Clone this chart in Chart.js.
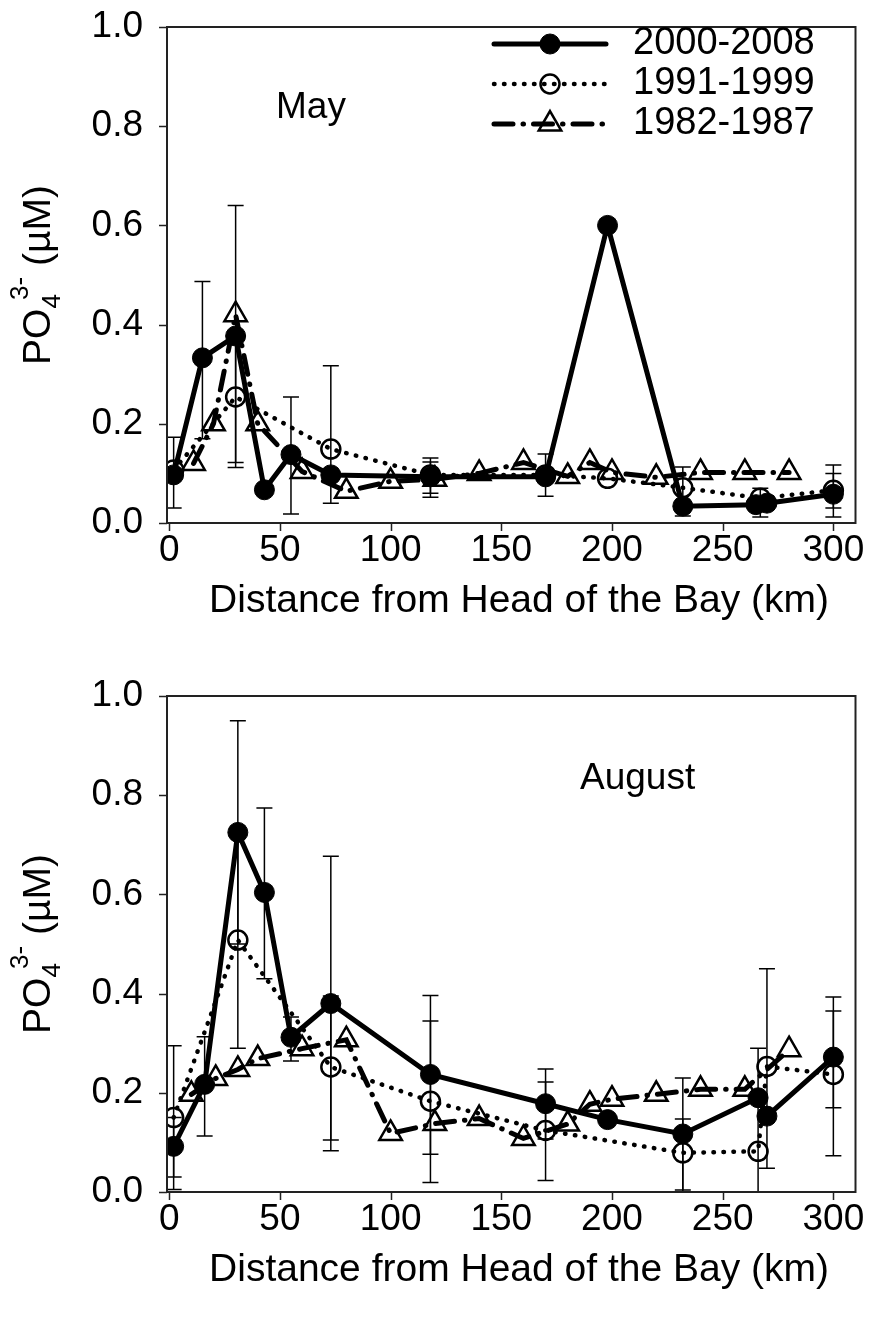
<!DOCTYPE html>
<html>
<head>
<meta charset="utf-8">
<script src="https://cdn.jsdelivr.net/npm/chart.js@4.4.1/dist/chart.umd.min.js"></script>
<style>
  html, body { margin: 0; padding: 0; background: #fff; }
  canvas { display: block; }
</style>
</head>
<body>
<canvas id="mayChart" width="871" height="663"></canvas>
<canvas id="augChart" width="871" height="664"></canvas>
<script>
// distance from head of the bay (km) / PO4 (uM)
const mayKm2000 = [2, 15, 30, 43, 55, 73, 118, 170, 198, 232, 265, 270, 300];
const mayPo2000 = [0.097, 0.333, 0.377, 0.067, 0.138, 0.097, 0.093, 0.093, 0.6, 0.034, 0.037, 0.04, 0.058];
const mayKm1991 = [2, 30, 73, 118, 170, 198, 232, 267, 300];
const mayPo1991 = [0.107, 0.254, 0.149, 0.097, 0.097, 0.09, 0.071, 0.05, 0.066];
const mayKm1982 = [11, 20, 30, 40, 60, 80, 100, 120, 140, 160, 180, 190, 200, 220, 240, 260, 280];
const mayPo1982 = [0.12, 0.2, 0.42, 0.2, 0.104, 0.064, 0.084, 0.088, 0.1, 0.122, 0.094, 0.122, 0.102, 0.092, 0.102, 0.102, 0.102];

const augKm2000 = [2, 16, 31, 43, 55, 73, 118, 170, 198, 232, 266, 270, 300];
const augPo2000 = [0.092, 0.217, 0.725, 0.604, 0.312, 0.38, 0.237, 0.178, 0.146, 0.117, 0.19, 0.153, 0.272];
const augKm1991 = [2, 31, 73, 118, 170, 232, 266, 270, 300];
const augPo1991 = [0.15, 0.508, 0.252, 0.183, 0.124, 0.079, 0.082, 0.253, 0.237];
const augKm1982 = [10, 21, 31, 40, 60, 80, 100, 120, 140, 160, 180, 190, 200, 220, 240, 260, 280];
const augPo1982 = [0.197, 0.229, 0.247, 0.269, 0.289, 0.307, 0.118, 0.138, 0.148, 0.108, 0.137, 0.177, 0.187, 0.197, 0.207, 0.207, 0.287];

// error bars: [km, low, high]
const mayErrors = [
    [2, 0.03, 0.173], [15, 0.17, 0.487], [30, 0.112, 0.64], [30, 0.122, 0.38],
    [55, 0.018, 0.254], [73, 0.04, 0.317], [118, 0.06, 0.131], [118, 0.052, 0.123],
    [170, 0.054, 0.139], [232, 0.014, 0.113], [267, 0.012, 0.07],
    [300, 0.012, 0.117], [300, 0.03, 0.1]
];
const augErrors = [
    [2, 0.005, 0.295], [2, 0.03, 0.15], [16, 0.113, 0.313], [31, 0.5, 0.95], [31, 0.29, 0.73],
    [43, 0.43, 0.774], [55, 0.264, 0.353], [73, 0.083, 0.677], [73, 0.105, 0.395],
    [118, 0.076, 0.396], [118, 0.019, 0.345], [170, 0.107, 0.248], [170, 0.023, 0.222],
    [232, 0.004, 0.23], [232, 0.0, 0.147], [266, -0.1, 0.29], [270, 0.048, 0.45],
    [300, 0.073, 0.393], [300, 0.17, 0.365]
];

const xTicks = [0, 50, 100, 150, 200, 250, 300];
const yTicks = [0, 0.2, 0.4, 0.6, 0.8, 1.0];
const seriesNames = ['2000-2008', '1991-1999', '1982-1987'];

const FONT = '"Liberation Sans", Arial, sans-serif';

const styles = [
    { borderWidth: 5, borderDash: [], pointStyle: 'circle', pointRadius: 10, pointBorderWidth: 1, fill: '#000' },
    { borderWidth: 4.5, borderDash: [0.5, 9.5], pointStyle: 'circle', pointRadius: 9.5, pointBorderWidth: 2.5, fill: 'rgba(0,0,0,0)' },
    { borderWidth: 5, borderDash: [19, 10, 0.5, 10], pointStyle: 'triangle', pointRadius: 13, pointBorderWidth: 2.5, fill: 'rgba(0,0,0,0)' }
];

function pairs(xs, ys) {
    return xs.map((x, i) => ({ x: x, y: ys[i] }));
}

function makeDataset(i, xs, ys) {
    const s = styles[i];
    return {
        label: seriesNames[i],
        data: pairs(xs, ys),
        borderColor: '#000',
        borderWidth: s.borderWidth,
        borderDash: s.borderDash,
        borderCapStyle: 'round',
        tension: 0,
        pointStyle: s.pointStyle,
        pointRadius: s.pointRadius,
        pointBorderWidth: s.pointBorderWidth,
        pointBorderColor: '#000',
        pointBackgroundColor: s.fill
    };
}

function drawMarker(ctx, i, x, y) {
    const s = styles[i];
    ctx.save();
    ctx.setLineDash([]);
    ctx.lineWidth = s.pointBorderWidth;
    ctx.strokeStyle = '#000';
    ctx.fillStyle = s.fill;
    ctx.beginPath();
    if (s.pointStyle === 'triangle') {
        let rad = 0;
        const r = s.pointRadius;
        ctx.moveTo(x + Math.sin(rad) * r, y - Math.cos(rad) * r);
        rad += Math.PI * 2 / 3;
        ctx.lineTo(x + Math.sin(rad) * r, y - Math.cos(rad) * r);
        rad += Math.PI * 2 / 3;
        ctx.lineTo(x + Math.sin(rad) * r, y - Math.cos(rad) * r);
        ctx.closePath();
    } else {
        ctx.arc(x, y, s.pointRadius, 0, Math.PI * 2);
    }
    ctx.fill();
    ctx.stroke();
    ctx.restore();
}

const decor = {
    id: 'decor',
    beforeDatasetsDraw(chart, args, opts) {
        const { ctx, chartArea: a, scales: { x, y } } = chart;
        ctx.save();
        ctx.beginPath();
        ctx.rect(a.left, a.top, a.width, a.height);
        ctx.clip();
        ctx.strokeStyle = '#000';
        ctx.lineWidth = 1.5;
        opts.errors.forEach(([km, lo, hi]) => {
            const px = x.getPixelForValue(km);
            const y1 = y.getPixelForValue(lo);
            const y2 = y.getPixelForValue(hi);
            ctx.beginPath();
            ctx.moveTo(px, y1); ctx.lineTo(px, y2);
            ctx.moveTo(px - 8, y1); ctx.lineTo(px + 8, y1);
            ctx.moveTo(px - 8, y2); ctx.lineTo(px + 8, y2);
            ctx.stroke();
        });
        ctx.restore();
    },
    afterDraw(chart, args, opts) {
        const { ctx, chartArea: a, scales: { x, y } } = chart;
        ctx.save();

        // frame and tick marks
        ctx.strokeStyle = '#222';
        ctx.lineWidth = 2;
        ctx.strokeRect(a.left, a.top, a.width, a.height);
        ctx.beginPath();
        xTicks.forEach(v => {
            const px = Math.round(x.getPixelForValue(v)) + 0.5;
            ctx.moveTo(px, a.bottom); ctx.lineTo(px, a.bottom + 8);
        });
        yTicks.forEach(v => {
            const py = Math.round(y.getPixelForValue(v)) + 0.5;
            ctx.moveTo(a.left, py); ctx.lineTo(a.left - 8, py);
        });
        ctx.lineWidth = 1.5;
        ctx.stroke();

        // tick labels
        ctx.fillStyle = '#000';
        ctx.font = '37px ' + FONT;
        ctx.textAlign = 'center';
        ctx.textBaseline = 'alphabetic';
        xTicks.forEach(v => ctx.fillText(String(v), x.getPixelForValue(v), a.bottom + 38));
        ctx.textAlign = 'right';
        ctx.textBaseline = 'middle';
        yTicks.forEach(v => ctx.fillText(v.toFixed(1), a.left - 24, y.getPixelForValue(v)));

        // x title
        ctx.font = '39px ' + FONT;
        ctx.textAlign = 'center';
        ctx.textBaseline = 'alphabetic';
        ctx.fillText('Distance from Head of the Bay (km)', 519, a.bottom + 89);

        // y title with sub/superscript
        ctx.save();
        ctx.translate(50, (a.top + a.bottom) / 2);
        ctx.rotate(-Math.PI / 2);
        const big = '39px ' + FONT, small = '26px ' + FONT;
        ctx.textAlign = 'left';
        ctx.font = big;
        const wPO = ctx.measureText('PO').width;
        const wU = ctx.measureText(' (\u00b5M)').width;
        ctx.font = small;
        const w4 = ctx.measureText('4').width;
        const w3 = ctx.measureText('3-').width;
        let cx = -(wPO + w4 * 0.6 + w3 + wU) / 2;
        ctx.font = big;
        ctx.fillText('PO', cx, 0);
        cx += wPO;
        ctx.font = small;
        ctx.fillText('4', cx, 10);
        ctx.fillText('3-', cx + w4 * 0.6, -22);
        cx += w4 * 0.6 + w3;
        ctx.font = big;
        ctx.fillText(' (\u00b5M)', cx, 0);
        ctx.restore();

        // month label
        ctx.font = '37px ' + FONT;
        ctx.textAlign = 'left';
        ctx.textBaseline = 'alphabetic';
        ctx.fillText(opts.month, opts.monthX, a.top + opts.monthDy);

        // legend
        if (opts.legend) {
            const rows = [a.top + 17, a.top + 57, a.top + 97];
            rows.forEach((ry, i) => {
                const s = styles[i];
                ctx.save();
                ctx.strokeStyle = '#000';
                ctx.lineWidth = s.borderWidth;
                ctx.lineCap = 'round';
                ctx.setLineDash(s.borderDash);
                ctx.beginPath();
                ctx.moveTo(494, ry);
                ctx.lineTo(606, ry);
                ctx.stroke();
                ctx.restore();
                drawMarker(ctx, i, 550, ry);
                ctx.font = '38px ' + FONT;
                ctx.textAlign = 'left';
                ctx.textBaseline = 'middle';
                ctx.fillStyle = '#000';
                ctx.fillText(seriesNames[i], 633, ry);
            });
        }
        ctx.restore();
    }
};

function buildChart(id, sets, errors, month, monthX, monthDy, legend, pad) {
    new Chart(document.getElementById(id), {
        type: 'line',
        data: { datasets: sets },
        options: {
            responsive: false,
            animation: false,
            events: [],
            layout: { padding: pad },
            scales: {
                x: { type: 'linear', min: -1, max: 310, display: false },
                y: { type: 'linear', min: 0, max: 1, display: false }
            },
            plugins: {
                legend: { display: false },
                tooltip: { enabled: false },
                decor: { errors: errors, month: month, monthX: monthX, monthDy: monthDy, legend: legend }
            }
        },
        plugins: [decor]
    });
}

buildChart('mayChart', [
    makeDataset(0, mayKm2000, mayPo2000),
    makeDataset(1, mayKm1991, mayPo1991),
    makeDataset(2, mayKm1982, mayPo1982)
], mayErrors, 'May', 276, 91, true, { left: 167, top: 27, right: 13, bottom: 140 });

buildChart('augChart', [
    makeDataset(0, augKm2000, augPo2000),
    makeDataset(1, augKm1991, augPo1991),
    makeDataset(2, augKm1982, augPo1982)
], augErrors, 'August', 580, 93, false, { left: 167, top: 33, right: 13, bottom: 135 });
</script>
</body>
</html>
